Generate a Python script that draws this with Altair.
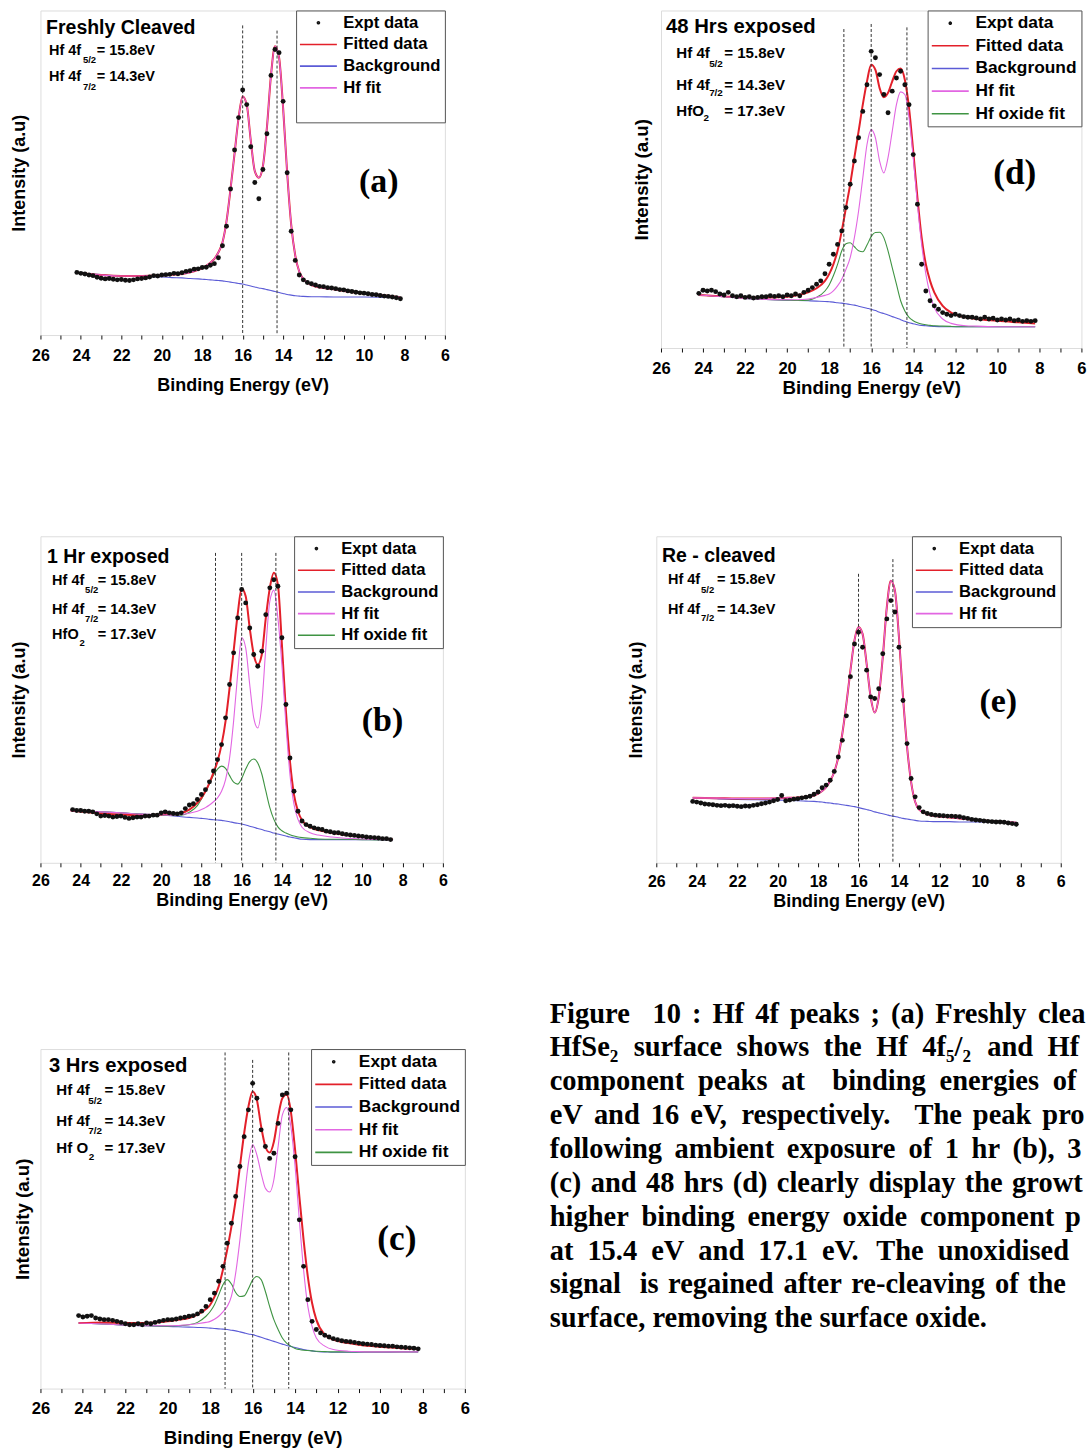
import altair as alt
import pandas as pd

# ---------------- axis ticks ----------------
X_TICKS = [26, 25, 24, 23, 22, 21, 20, 19, 18, 17, 16, 15, 14, 13, 12, 11, 10, 9, 8, 7, 6]

# ---------------- binding-energy grids ----------------
DOT_BE = [24.2, 24.0, 23.8, 23.6, 23.4, 23.2, 23.0, 22.8, 22.6, 22.4,
          22.2, 22.0, 21.8, 21.6, 21.4, 21.2, 21.0, 20.8, 20.6, 20.4,
          20.2, 20.0, 19.8, 19.6, 19.4, 19.2, 19.0, 18.8, 18.6, 18.4,
          18.2, 18.0, 17.8, 17.6, 17.4, 17.2, 17.0, 16.8, 16.6, 16.4,
          16.2, 16.0, 15.8, 15.6, 15.4, 15.2, 15.0, 14.8, 14.6, 14.4,
          14.2, 14.0, 13.8, 13.6, 13.4, 13.2, 13.0, 12.8, 12.6, 12.4,
          12.2, 12.0, 11.8, 11.6, 11.4, 11.2, 11.0, 10.8, 10.6, 10.4,
          10.2, 10.0, 9.8, 9.6, 9.4, 9.2, 9.0, 8.8, 8.6, 8.4,
          8.2]
DOT_BE_B = [24.4, 24.2, 24.0, 23.8, 23.6, 23.4, 23.2, 23.0, 22.8, 22.6,
            22.4, 22.2, 22.0, 21.8, 21.6, 21.4, 21.2, 21.0, 20.8, 20.6,
            20.4, 20.2, 20.0, 19.8, 19.6, 19.4, 19.2, 19.0, 18.8, 18.6,
            18.4, 18.2, 18.0, 17.8, 17.6, 17.4, 17.2, 17.0, 16.8, 16.6,
            16.4, 16.2, 16.0, 15.8, 15.6, 15.4, 15.2, 15.0, 14.8, 14.6,
            14.4, 14.2, 14.0, 13.8, 13.6, 13.4, 13.2, 13.0, 12.8, 12.6,
            12.4, 12.2, 12.0, 11.8, 11.6, 11.4, 11.2, 11.0, 10.8, 10.6,
            10.4, 10.2, 10.0, 9.8, 9.6, 9.4, 9.2, 9.0, 8.8, 8.6]
CURVE_BE = [24.2, 23.0, 22.0, 21.0, 20.0, 19.5, 19.0, 18.6, 18.2, 18.0,
            17.8, 17.6, 17.4, 17.2, 17.0, 16.8, 16.6, 16.4, 16.2, 16.0,
            15.8, 15.6, 15.4, 15.2, 15.0, 14.8, 14.6, 14.4, 14.2, 14.0,
            13.8, 13.6, 13.4, 13.2, 13.0, 12.6, 12.2, 11.5, 11.0, 10.0,
            9.0, 8.2]
CURVE_BE_B = [24.5] + CURVE_BE[1:-1] + [8.5]

# ---------------- (a) Freshly cleaved ----------------
A_DOTS = [19.3, 19.0, 18.8, 18.5, 18.3, 17.8, 17.5, 17.3, 17.4, 17.2,
          17.0, 17.1, 16.9, 16.8, 17.0, 17.3, 17.4, 17.6, 17.9, 18.3,
          18.2, 18.5, 18.6, 18.7, 19.0, 18.9, 19.2, 19.6, 19.8, 20.3,
          20.4, 20.8, 20.9, 21.5, 22.0, 23.8, 27.5, 33.5, 45.0, 57.0,
          67.0, 75.5, 71.0, 58.0, 47.0, 42.0, 51.0, 62.0, 80.0, 88.0,
          87.0, 72.0, 50.0, 32.0, 23.0, 18.5, 17.0, 16.2, 15.8, 15.4,
          15.0, 14.9, 14.6, 14.5, 14.3, 14.0, 13.9, 13.6, 13.4, 13.2,
          13.0, 12.9, 12.7, 12.5, 12.4, 12.2, 12.0, 11.9, 11.7, 11.5,
          11.2]
A_FIT = [19.2, 18.5, 18.2, 18.2, 18.4, 18.6, 18.8, 19.3, 20.1, 20.6,
         21.3, 22.3, 23.5, 25.5, 28.5, 35.0, 45.0, 56.0, 67.0, 73.5,
         71.0, 60.0, 50.5, 48.5, 52.0, 64.0, 80.0, 89.0, 85.5, 70.0,
         50.0, 34.0, 24.5, 19.5, 17.3, 15.4, 14.7, 14.1, 13.6, 12.8,
         12.2, 11.6]
A_BG = [19.2, 18.6, 18.2, 18.0, 17.9, 17.7, 17.6, 17.4, 17.3, 17.2,
        17.1, 17.0, 16.9, 16.8, 16.7, 16.5, 16.3, 16.1, 15.9, 15.7,
        15.4, 15.1, 14.8, 14.5, 14.3, 14.0, 13.7, 13.4, 13.1, 12.8,
        12.5, 12.3, 12.1, 12.0, 11.9, 11.8, 11.8, 11.7, 11.7, 11.7,
        11.6, 11.5]
A_HF = A_FIT
A_DASH_BE = [16.0, 14.3]
A_DASH_TOP = [95.4, 93.8]

# ---------------- (b) 1 Hr exposed ----------------
B_DOTS = [16.3, 16.0, 16.0, 15.8, 15.8, 15.6, 15.0, 14.3, 14.5, 14.3,
          14.0, 14.2, 14.3, 13.9, 13.6, 13.8, 14.0, 14.0, 14.3, 14.3,
          14.6, 14.6, 15.3, 15.6, 15.3, 15.1, 15.0, 15.3, 16.6, 17.7,
          18.1, 19.4, 20.9, 22.4, 24.8, 28.1, 31.6, 36.2, 44.4, 54.6,
          64.3, 75.0, 83.7, 79.6, 71.9, 63.8, 60.2, 64.8, 76.0, 84.2,
          86.7, 84.7, 68.9, 48.5, 32.1, 21.9, 15.8, 12.8, 11.7, 11.2,
          10.7, 10.4, 10.2, 9.7, 9.5, 9.2, 9.2, 8.9, 8.7, 8.5,
          8.4, 8.2, 8.1, 7.9, 7.8, 7.7, 7.6, 7.4, 7.4, 7.1]
B_FIT = [16.0, 15.1, 14.8, 14.6, 14.8, 15.0, 15.3, 16.3, 18.4, 19.9,
         21.9, 24.5, 27.6, 31.1, 36.2, 43.4, 53.6, 64.8, 76.0, 84.0,
         81.6, 71.9, 63.8, 60.7, 63.8, 75.0, 84.2, 88.8, 85.2, 66.8,
         46.4, 31.1, 20.9, 15.8, 13.0, 10.9, 10.0, 9.2, 8.7, 8.0,
         7.4, 7.2]
B_BG = [16.0, 15.6, 15.3, 14.9, 14.6, 14.4, 14.1, 13.9, 13.7, 13.6,
        13.5, 13.3, 13.2, 13.1, 13.0, 12.8, 12.6, 12.3, 12.1, 11.9,
        11.6, 11.2, 10.9, 10.5, 10.2, 9.8, 9.5, 9.1, 8.8, 8.5,
        8.2, 7.9, 7.7, 7.4, 7.2, 7.1, 7.1, 7.1, 7.1, 7.1,
        7.0, 7.0]
B_HF = [16.0, 15.6, 15.3, 14.9, 14.7, 14.6, 14.8, 15.2, 15.8, 16.3,
        16.9, 17.7, 18.7, 19.9, 21.9, 25.5, 32.1, 43.4, 57.7, 69.0,
        65.8, 54.6, 44.4, 41.3, 48.5, 65.8, 80.1, 83.5, 75.0, 60.7,
        42.3, 27.0, 17.9, 13.3, 10.9, 9.2, 8.5, 7.9, 7.6, 7.3,
        7.1, 7.0]
B_OX = [16.0, 15.6, 15.3, 14.9, 14.6, 14.5, 14.6, 15.5, 17.5, 19.5,
        21.8, 24.3, 26.8, 28.7, 29.6, 28.9, 26.7, 24.7, 24.1, 25.8,
        28.7, 31.0, 31.8, 30.6, 27.2, 22.0, 16.9, 13.3, 11.0, 9.8,
        9.1, 8.6, 8.2, 7.9, 7.7, 7.5, 7.3, 7.2, 7.2, 7.1,
        7.0, 7.0]
B_DASH_BE = [17.3, 16.0, 14.3]
B_DASH_TOP = [94.9, 94.9, 94.9]

# ---------------- (c) 3 Hrs exposed ----------------
C_DOTS = [21.5, 21.1, 21.3, 21.5, 20.8, 20.5, 20.3, 20.3, 20.1, 19.8,
          19.5, 19.1, 18.8, 18.8, 19.1, 18.8, 19.3, 19.1, 19.5, 19.8,
          20.1, 20.3, 20.3, 20.5, 20.8, 21.0, 21.3, 21.5, 22.0, 22.8,
          24.2, 26.2, 28.1, 31.6, 36.0, 42.8, 48.7, 56.6, 65.4, 74.2,
          82.1, 89.9, 85.5, 76.2, 71.3, 67.8, 69.3, 78.1, 86.5, 87.0,
          82.1, 68.3, 49.7, 36.0, 26.2, 19.8, 17.4, 16.4, 15.7, 15.2,
          14.7, 14.4, 14.1, 13.9, 13.8, 13.6, 13.4, 13.2, 13.1, 13.0,
          12.8, 12.7, 12.6, 12.5, 12.5, 12.3, 12.2, 12.1, 12.0, 11.9,
          11.7]
C_FIT = [19.3, 19.5, 19.3, 19.3, 19.8, 20.3, 20.8, 21.8, 23.4, 24.7,
         27.0, 30.1, 35.0, 40.9, 47.7, 55.6, 65.4, 75.2, 83.0, 87.5,
         85.0, 77.2, 71.3, 69.5, 72.7, 80.1, 85.5, 86.6, 81.6, 70.3,
         56.6, 43.8, 33.0, 25.2, 20.3, 15.9, 14.4, 13.4, 12.9, 12.3,
         11.9, 11.6]
C_BG = [19.3, 19.0, 18.7, 18.5, 18.3, 18.2, 18.1, 18.0, 17.9, 17.8,
        17.7, 17.6, 17.5, 17.4, 17.2, 17.0, 16.7, 16.4, 16.1, 15.9,
        15.5, 15.1, 14.7, 14.3, 13.9, 13.5, 13.1, 12.7, 12.4, 12.1,
        11.8, 11.5, 11.3, 11.1, 10.9, 10.8, 10.7, 10.7, 10.7, 10.7,
        10.8, 10.8]
C_HF = [19.3, 19.0, 18.7, 18.5, 18.5, 18.6, 18.8, 19.1, 19.5, 19.8,
        20.4, 21.3, 22.6, 24.2, 27.2, 34.0, 43.8, 55.6, 66.4, 71.8,
        68.8, 63.4, 59.0, 57.9, 61.5, 71.3, 80.6, 82.8, 77.2, 65.4,
        49.7, 35.0, 24.2, 18.3, 14.9, 12.5, 11.5, 11.0, 10.9, 10.8,
        10.8, 10.8]
C_OX = [19.3, 19.0, 18.7, 18.5, 18.4, 18.5, 18.8, 19.5, 21.3, 22.7,
        24.7, 27.6, 30.6, 32.1, 30.8, 28.3, 27.1, 27.3, 29.4, 32.0,
        33.0, 32.1, 28.6, 24.2, 20.3, 17.4, 14.9, 13.4, 12.5, 11.8,
        11.5, 11.3, 11.2, 11.1, 11.0, 10.9, 10.8, 10.8, 10.8, 10.8,
        10.8, 10.8]
C_DASH_BE = [17.3, 16.0, 14.3]
C_DASH_TOP = [99.0, 96.8, 99.0]

# ---------------- (d) 48 Hrs exposed ----------------
D_DOTS = [16.2, 17.1, 16.9, 17.1, 16.7, 16.0, 15.7, 16.5, 15.5, 15.2,
          15.5, 15.0, 15.2, 14.8, 15.0, 15.2, 15.2, 15.5, 15.3, 15.5,
          15.2, 15.7, 15.5, 16.0, 15.5, 16.5, 17.1, 17.9, 18.9, 19.9,
          22.0, 24.8, 27.8, 30.7, 34.7, 41.6, 48.5, 55.4, 62.3, 70.1,
          78.0, 87.9, 86.0, 81.0, 75.1, 69.7, 76.1, 80.0, 82.0, 78.0,
          72.1, 57.3, 42.6, 24.8, 16.9, 14.0, 12.5, 11.5, 10.5, 10.0,
          9.6, 10.0, 9.6, 9.3, 9.1, 9.1, 8.9, 8.6, 9.1, 8.6,
          8.8, 8.3, 8.6, 8.3, 8.6, 8.1, 8.3, 7.9, 8.1, 7.9,
          8.1]
D_FIT = [15.7, 15.3, 15.0, 15.0, 15.2, 15.7, 16.5, 17.7, 19.9, 21.9,
         24.8, 28.8, 34.7, 41.6, 48.5, 56.4, 64.2, 72.1, 79.0, 83.9,
         82.4, 77.0, 74.3, 75.6, 79.0, 82.0, 82.8, 79.5, 71.1, 58.3,
         44.5, 32.7, 24.8, 19.9, 16.5, 12.5, 10.5, 9.1, 8.6, 8.1,
         7.6, 7.3]
D_BG = [15.7, 15.2, 14.7, 14.4, 14.2, 14.1, 14.0, 13.9, 13.8, 13.7,
        13.6, 13.4, 13.3, 13.1, 12.9, 12.7, 12.4, 12.1, 11.8, 11.5,
        11.1, 10.6, 10.2, 9.8, 9.3, 8.9, 8.4, 7.9, 7.5, 7.2,
        6.9, 6.7, 6.6, 6.5, 6.4, 6.3, 6.3, 6.3, 6.3, 6.3,
        6.3, 6.3]
D_HF = [15.7, 15.2, 14.7, 14.4, 14.3, 14.3, 14.5, 15.0, 15.6, 16.0,
        16.9, 18.4, 20.4, 23.3, 26.8, 32.7, 40.6, 50.4, 60.3, 64.7,
        62.3, 55.4, 51.9, 56.4, 64.2, 72.1, 75.9, 75.1, 68.2, 56.4,
        42.6, 30.7, 21.9, 16.0, 12.0, 8.6, 7.3, 6.6, 6.5, 6.3,
        6.3, 6.3]
D_OX = [15.7, 15.2, 14.7, 14.4, 14.2, 14.1, 14.2, 15.0, 16.9, 18.7,
        21.4, 24.8, 28.8, 30.9, 31.2, 30.0, 28.8, 28.5, 30.5, 33.0,
        34.2, 34.3, 32.7, 28.8, 23.8, 18.9, 14.0, 11.0, 9.1, 8.1,
        7.5, 7.1, 6.9, 6.7, 6.6, 6.5, 6.4, 6.3, 6.3, 6.3,
        6.3, 6.3]
D_DASH_BE = [17.3, 16.0, 14.3]
D_DASH_TOP = [94.5, 96.0, 95.0]

# ---------------- (e) Re-cleaved ----------------
E_DOTS = [18.8, 18.6, 18.3, 18.0, 17.9, 17.8, 17.6, 17.5, 17.6, 17.4,
          17.5, 17.3, 17.2, 17.4, 17.3, 17.6, 17.8, 18.1, 18.3, 18.6,
          19.0, 19.4, 20.6, 19.0, 19.2, 19.5, 19.6, 19.9, 20.1, 20.4,
          21.0, 21.7, 23.0, 23.8, 25.3, 28.0, 32.4, 37.5, 45.0, 57.0,
          67.0, 70.6, 66.0, 59.0, 50.8, 50.3, 53.3, 64.0, 74.7, 80.3,
          76.8, 66.0, 49.7, 36.5, 25.8, 20.2, 16.9, 15.6, 15.1, 14.8,
          14.6, 14.5, 14.4, 14.3, 14.3, 14.2, 14.1, 13.8, 13.6, 13.3,
          13.1, 13.0, 12.8, 12.7, 12.6, 12.5, 12.5, 12.4, 12.2, 12.0,
          11.8]
E_FIT = [19.9, 19.8, 19.7, 19.7, 19.8, 19.9, 20.0, 20.2, 20.6, 21.2,
         22.0, 23.2, 25.1, 27.8, 32.4, 39.6, 48.7, 58.9, 68.1, 72.2,
         70.1, 61.0, 50.8, 46.0, 50.8, 63.0, 78.3, 86.4, 83.4, 69.1,
         50.8, 35.5, 24.8, 18.7, 16.3, 14.9, 14.3, 13.9, 13.6, 13.0,
         12.6, 12.3]
E_BG = [19.9, 19.6, 19.4, 19.3, 19.2, 19.1, 19.0, 18.9, 18.8, 18.7,
        18.6, 18.4, 18.3, 18.1, 18.0, 17.8, 17.6, 17.4, 17.2, 16.9,
        16.6, 16.3, 16.0, 15.6, 15.3, 15.0, 14.7, 14.4, 14.2, 13.9,
        13.6, 13.4, 13.2, 13.0, 12.8, 12.7, 12.6, 12.6, 12.5, 12.5,
        12.4, 12.4]
E_HF = E_FIT
E_DASH_BE = [16.0, 14.3]
E_DASH_TOP = [88.5, 93.0]

# ---------------- in-panel annotations ----------------
A_NOTE_TEXT = ["Freshly Cleaved", "Hf 4f", "5/2", "= 15.8eV", "Hf 4f", "7/2", "= 14.3eV", "(a)"]
A_NOTE_KIND = ["title", "main", "sub", "main", "main", "sub", "main", "tag"]
A_NOTE_BE = [25.72, 25.58, 23.9, 23.22, 25.58, 23.9, 23.22, 9.27]
A_NOTE_I = [92.9, 86.2, 83.7, 86.2, 78.2, 75.6, 78.2, 44.0]

B_NOTE_TEXT = ["1 Hr exposed", "Hf 4f", "5/2", "= 15.8eV", "Hf 4f", "7/2", "= 14.3eV", "HfO", "2", "= 17.3eV", "(b)"]
B_NOTE_KIND = ["title", "main", "sub", "main", "main", "sub", "main", "main", "sub", "main", "tag"]
B_NOTE_BE = [25.67, 25.42, 23.78, 23.15, 25.42, 23.78, 23.15, 25.42, 24.06, 23.15, 9.0]
B_NOTE_I = [91.8, 85.2, 82.7, 85.2, 76.1, 73.8, 76.1, 68.4, 66.4, 68.4, 40.4]

C_NOTE_TEXT = ["3 Hrs exposed", "Hf 4f", "5/2", "= 15.8eV", "Hf 4f", "7/2", "= 14.3eV", "Hf O", "2", "= 17.3eV", "(c)"]
C_NOTE_KIND = B_NOTE_KIND
C_NOTE_BE = [25.6, 25.25, 23.75, 22.98, 25.25, 23.75, 22.98, 25.25, 23.72, 22.98, 9.2]
C_NOTE_I = [93.1, 86.4, 83.8, 86.4, 77.3, 75.0, 77.3, 69.3, 67.3, 69.3, 40.9]

D_NOTE_TEXT = ["48 Hrs exposed", "Hf 4f", "5/2", "= 15.8eV", "Hf 4f", "7/2", "= 14.3eV", "HfO", "2", "= 17.3eV", "(d)"]
D_NOTE_KIND = B_NOTE_KIND
D_NOTE_BE = [25.76, 25.27, 23.71, 22.99, 25.27, 23.71, 22.99, 25.27, 23.98, 22.99, 9.17]
D_NOTE_I = [93.3, 85.9, 83.4, 85.9, 76.5, 74.6, 76.5, 68.7, 67.2, 68.7, 48.5]

E_NOTE_TEXT = ["Re - cleaved", "Hf 4f", "5/2", "= 15.8eV", "Hf 4f", "7/2", "= 14.3eV", "(e)"]
E_NOTE_KIND = A_NOTE_KIND
E_NOTE_BE = [25.72, 25.42, 23.79, 23.0, 25.42, 23.79, 23.0, 9.09]
E_NOTE_I = [92.0, 85.4, 82.7, 85.4, 76.3, 74.2, 76.3, 46.2]

# ---------------- caption ----------------
CAPTION_WORDS = [
    ["Figure", "10", ":", "Hf", "4f", "peaks", ";", "(a)", "Freshly", "cleaved"],
    ["HfSe\u2082", "surface", "shows", "the", "Hf", "4f\u2085/\u2082", "and", "Hf"],
    ["component", "peaks", "at", "binding", "energies", "of"],
    ["eV", "and", "16", "eV,", "respectively.", "The", "peak", "profiles"],
    ["following", "ambient", "exposure", "of", "1", "hr", "(b),", "3"],
    ["(c)", "and", "48", "hrs", "(d)", "clearly", "display", "the", "growth"],
    ["higher", "binding", "energy", "oxide", "component", "peaks"],
    ["at", "15.4", "eV", "and", "17.1", "eV.", "The", "unoxidised"],
    ["signal", "is", "regained", "after", "re-cleaving", "of", "the"],
    ["surface, removing the surface oxide."],
]
CAPTION_X = [
    [550, 652.8, 692.4, 712.9, 755.7, 790.5, 871.2, 891.8, 936.1, 1039.0],
    [550, 634.0, 737.1, 824.4, 876.9, 923.1, 988.1, 1048.5],
    [550, 698.4, 781.8, 833.0, 940.3, 1053.7],
    [550, 594.2, 651.1, 690.6, 742.0, 915.2, 973.7, 1043.3],
    [550, 675.0, 787.4, 909.2, 945.5, 972.4, 1013.5, 1068.1],
    [550, 591.0, 646.3, 684.2, 733.2, 777.4, 869.1, 965.6, 1013.0],
    [550, 641.9, 748.1, 843.1, 920.7, 1066.0],
    [550, 587.7, 651.6, 698.8, 758.7, 822.6, 877.0, 938.5],
    [550, 640.1, 668.5, 784.0, 851.9, 995.8, 1028.9],
    [550],
]
CAPTION_LEFT = 550
CAPTION_W = 539
CAPTION_BASE0 = -26.5   # first baseline relative to the top of panel (c)
CAPTION_STEP = 33.9

# ---------------- styling ----------------
SANS = "Liberation Sans"
SERIF = "Liberation Serif"
COLORS = {"Expt data": "#111111", "Fitted data": "#e3202a", "Background": "#5b5bd6",
          "Hf fit": "#e266e2", "Hf oxide fit": "#3f9443", " ": "#ffffff"}
DOT_PATH = "M0.2,0A0.2,0.2,0,1,1,-0.2,0A0.2,0.2,0,1,1,0.2,0Z"
LINE_PATH = "M-3.7,0L3.7,0"
SHAPES = {"Expt data": DOT_PATH, "Fitted data": LINE_PATH, "Background": LINE_PATH,
          "Hf fit": LINE_PATH, "Hf oxide fit": LINE_PATH, " ": "M0,0"}

PANELS = {
    "a": dict(w=405, h=325, fs=1.0, dot_be=DOT_BE, dots=A_DOTS, curve_be=CURVE_BE,
              fit=A_FIT, bg=A_BG, hf=A_HF, ox=None,
              series=["Expt data", "Fitted data", "Background", "Hf fit", " "],
              dash_be=A_DASH_BE, dash_top=A_DASH_TOP,
              notes=(A_NOTE_TEXT, A_NOTE_KIND, A_NOTE_BE, A_NOTE_I),
              lab_pad=8, tit_pad=14, ytit_pad=11.7),
    "b": dict(w=403, h=327, fs=1.0, dot_be=DOT_BE_B, dots=B_DOTS, curve_be=CURVE_BE_B,
              fit=B_FIT, bg=B_BG, hf=B_HF, ox=B_OX,
              series=["Expt data", "Fitted data", "Background", "Hf fit", "Hf oxide fit"],
              dash_be=B_DASH_BE, dash_top=B_DASH_TOP,
              notes=(B_NOTE_TEXT, B_NOTE_KIND, B_NOTE_BE, B_NOTE_I),
              lab_pad=5.5, tit_pad=3.2, ytit_pad=11.5),
    "c": dict(w=425, h=340, fs=1.04, dot_be=DOT_BE, dots=C_DOTS, curve_be=CURVE_BE,
              fit=C_FIT, bg=C_BG, hf=C_HF, ox=C_OX,
              series=["Expt data", "Fitted data", "Background", "Hf fit", "Hf oxide fit"],
              dash_be=C_DASH_BE, dash_top=C_DASH_TOP,
              notes=(C_NOTE_TEXT, C_NOTE_KIND, C_NOTE_BE, C_NOTE_I),
              lab_pad=8, tit_pad=11.7, ytit_pad=7.7),
    "d": dict(w=421, h=338, fs=1.04, dot_be=DOT_BE, dots=D_DOTS, curve_be=CURVE_BE,
              fit=D_FIT, bg=D_BG, hf=D_HF, ox=D_OX,
              series=["Expt data", "Fitted data", "Background", "Hf fit", "Hf oxide fit"],
              dash_be=D_DASH_BE, dash_top=D_DASH_TOP,
              notes=(D_NOTE_TEXT, D_NOTE_KIND, D_NOTE_BE, D_NOTE_I),
              lab_pad=8.2, tit_pad=1.5, ytit_pad=10),
    "e": dict(w=405, h=327, fs=1.0, dot_be=DOT_BE, dots=E_DOTS, curve_be=CURVE_BE,
              fit=E_FIT, bg=E_BG, hf=E_HF, ox=None,
              series=["Expt data", "Fitted data", "Background", "Hf fit"],
              dash_be=E_DASH_BE, dash_top=E_DASH_TOP,
              notes=(E_NOTE_TEXT, E_NOTE_KIND, E_NOTE_BE, E_NOTE_I),
              lab_pad=6.4, tit_pad=3.2, ytit_pad=10.7),
}


def build_panel(p):
    fs = p["fs"]
    xs = alt.Scale(domain=[26, 6], nice=False, zero=False)
    ys = alt.Scale(domain=[0, 100], nice=False, zero=False)
    xaxis = alt.Axis(title="Binding Energy (eV)", values=X_TICKS,
                     labelExpr="datum.value % 2 === 0 ? datum.label : ''",
                     labelFlush=False, labelOverlap=False, grid=False, domain=False,
                     tickSize=4, tickColor="#111111", tickWidth=1,
                     labelPadding=p["lab_pad"], titlePadding=p["tit_pad"],
                     labelFont=SANS, labelFontWeight="bold", labelFontSize=16 * fs, labelColor="#000000",
                     titleFont=SANS, titleFontWeight="bold", titleFontSize=18 * fs, titleColor="#000000")
    yaxis = alt.Axis(title="Intensity (a.u)", labels=False, ticks=False, domain=False, grid=False,
                     titlePadding=p["ytit_pad"], titleFont=SANS, titleFontWeight="bold",
                     titleFontSize=18 * fs, titleColor="#000000")

    def X(f):
        return alt.X(f"{f}:Q", scale=xs, axis=xaxis)

    def Y(f):
        return alt.Y(f"{f}:Q", scale=ys, axis=yaxis)

    names = p["series"]
    leg = alt.Legend(title=None, orient="top-right", offset=0, padding=4, rowPadding=3.7,
                     labelFont=SANS, labelFontWeight="bold", labelFontSize=16.7 * fs, labelColor="#000000",
                     symbolSize=100, symbolStrokeWidth=1.6, symbolOffset=10, labelOffset=16.5,
                     strokeColor="#555555", fillColor="#ffffff")
    legend_df = pd.DataFrame({"be": pd.Series([], dtype=float),
                              "inten": pd.Series([], dtype=float),
                              "series": pd.Series([], dtype=str)})
    layers = [
        alt.Chart(legend_df).mark_point(filled=False, size=100, strokeWidth=1.6, opacity=1).encode(
            x=X("be"), y=Y("inten"),
            color=alt.Color("series:N", scale=alt.Scale(domain=names, range=[COLORS[n] for n in names]), legend=leg),
            shape=alt.Shape("series:N", scale=alt.Scale(domain=names, range=[SHAPES[n] for n in names]), legend=leg),
        )
    ]

    cols = {"be": p["curve_be"], "fit": p["fit"], "bg": p["bg"], "hf": p["hf"]}
    if p["ox"] is not None:
        cols["ox"] = p["ox"]
    cdf = pd.DataFrame(cols)

    def line(field, color, width):
        return alt.Chart(cdf).mark_line(color=color, strokeWidth=width, interpolate="monotone").encode(
            x=X("be"), y=Y(field), order=alt.Order("be:Q", sort="descending"))

    layers.append(line("bg", COLORS["Background"], 1.1))
    if p["ox"] is not None:
        layers.append(line("ox", COLORS["Hf oxide fit"], 1.1))
    layers.append(line("fit", COLORS["Fitted data"], 2.0))
    layers.append(line("hf", COLORS["Hf fit"], 1.1))

    ddf = pd.DataFrame({"be": p["dash_be"], "top": p["dash_top"]})
    layers.append(alt.Chart(ddf).mark_rule(color="#333333", strokeWidth=1, strokeDash=[3, 2]).encode(
        x=X("be"), y=Y("top"), y2=alt.datum(0)))

    dots = pd.DataFrame({"be": p["dot_be"], "inten": p["dots"]})
    layers.append(alt.Chart(dots).mark_circle(size=24, color="#111111", opacity=1).encode(
        x=X("be"), y=Y("inten")))

    txt, kind, nbe, ni = p["notes"]
    ndf = pd.DataFrame({"be": nbe, "inten": ni, "label": txt, "kind": kind})
    styles = {
        "title": dict(font=SANS, fontSize=19.5 * fs, fontWeight="bold", align="left"),
        "main": dict(font=SANS, fontSize=14.5 * fs, fontWeight="bold", align="left"),
        "sub": dict(font=SANS, fontSize=9.5 * fs, fontWeight="bold", align="left"),
        "tag": dict(font=SERIF, fontSize=34 * fs, fontWeight="bold", align="center"),
    }
    for k, st in styles.items():
        sub = ndf[ndf["kind"] == k].reset_index(drop=True)
        if len(sub) == 0:
            continue
        layers.append(alt.Chart(sub).mark_text(baseline="alphabetic", color="#000000", **st).encode(
            x=X("be"), y=Y("inten"), text="label:N"))

    return alt.layer(*layers).properties(width=p["w"], height=p["h"])


def build_caption():
    cap_style = dict(font=SERIF, fontSize=28.5, fontWeight="bold", align="left",
                     baseline="alphabetic", color="#000000")
    body, layers = [], []
    lasts = []
    for i, (words, xs) in enumerate(zip(CAPTION_WORDS, CAPTION_X)):
        y = CAPTION_BASE0 + i * CAPTION_STEP
        for j, (w, x) in enumerate(zip(words, xs)):
            rec = {"w": w, "x": x - CAPTION_LEFT, "y": y}
            if j == len(words) - 1:
                lasts.append(rec)
            else:
                body.append(rec)
    enc = dict(x=alt.X("x:Q", scale=None), y=alt.Y("y:Q", scale=None), text="w:N")
    layers.append(alt.Chart(pd.DataFrame(body)).mark_text(**cap_style).encode(**enc))
    for rec in lasts:
        lim = CAPTION_W - rec["x"]
        layers.append(alt.Chart(pd.DataFrame([rec])).mark_text(limit=lim, ellipsis="\u200b", **cap_style).encode(**enc))
    return alt.layer(*layers).properties(width=CAPTION_W, height=340,
                                         view=alt.ViewBackground(stroke="transparent"))


def indep(c):
    return c.resolve_scale(color="independent", shape="independent").resolve_legend(
        color="independent", shape="independent")


pa = build_panel(PANELS["a"])
pb = build_panel(PANELS["b"])
pc = build_panel(PANELS["c"])
pdd = build_panel(PANELS["d"])
pe = build_panel(PANELS["e"])
cap = build_caption()

row0 = indep(alt.hconcat(pa, pdd, spacing=216.4, bounds="flush"))
row1 = indep(alt.hconcat(pb, pe, spacing=213.7, bounds="flush"))
row2 = indep(alt.hconcat(pc, cap, spacing=85, bounds="flush"))
lower = indep(alt.vconcat(row1, row2, spacing=87.5))
chart = indep(alt.vconcat(row0, lower, spacing=137.5))
chart = chart.properties(padding={"left": 9.5, "top": 8.5, "right": 0, "bottom": 0}).configure_view(
    stroke="#1a1a1a", strokeWidth=1).configure(font=SANS)

chart.save("out.html", embed_options={"renderer": "svg", "actions": False})
